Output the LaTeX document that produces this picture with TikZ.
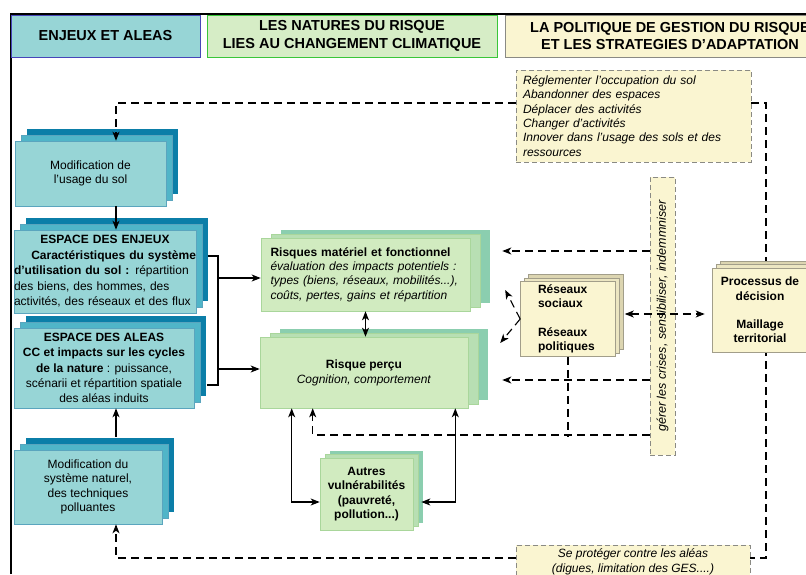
\documentclass[tikz,border=0pt]{standalone}
\usepackage{fontspec}
\setmainfont{Liberation Sans}
\usetikzlibrary{arrows.meta,shadows}

\definecolor{tealfront}{HTML}{97D5D6}
\definecolor{tealmid}{HTML}{50B5C8}
\definecolor{tealdark}{HTML}{0B7EA8}
\definecolor{tealline}{HTML}{5AA5BE}
\definecolor{greenfront}{HTML}{D1EBC0}
\definecolor{greenmid}{HTML}{B8DFB3}
\definecolor{greendark}{HTML}{8BCEAF}
\definecolor{greenline}{HTML}{A9D69B}
\definecolor{yellowfront}{HTML}{FAF5D1}
\definecolor{yellowmid}{HTML}{ECE6C2}
\definecolor{yellowdark}{HTML}{DCD5B1}
\definecolor{yellowline}{HTML}{A29E8A}
\definecolor{notegray}{HTML}{8A8A84}

\tikzset{
  head/.style={minimum height=42pt, align=center, line width=0.8pt,
    font=\fontsize{14.5}{17.5}\selectfont\bfseries},
  tealbox/.style={draw=tealline, fill=tealfront, line width=0.6pt, align=center, inner xsep=2pt,
    font=\fontsize{12}{14.4}\selectfont,
    general shadow={fill=tealdark, shadow xshift=12pt, shadow yshift=12pt},
    general shadow={fill=tealmid, draw=tealline, shadow xshift=6pt, shadow yshift=6pt}},
  greenbox/.style={draw=greenline, fill=greenfront, line width=0.6pt, align=center,
    font=\fontsize{12}{14.4}\selectfont,
    general shadow={fill=greendark, shadow xshift=20pt, shadow yshift=8pt},
    general shadow={fill=greenmid, draw=greenline, shadow xshift=10pt, shadow yshift=4pt}},
  greensmall/.style={draw=greenline, fill=greenfront, line width=0.6pt, align=center,
    font=\fontsize{12}{14.4}\selectfont\bfseries,
    general shadow={fill=greendark, shadow xshift=10pt, shadow yshift=7pt},
    general shadow={fill=greenmid, draw=greenline, shadow xshift=5pt, shadow yshift=3.5pt}},
  yellowbox/.style={draw=yellowline, fill=yellowfront, line width=0.6pt,
    font=\fontsize{12}{14.4}\selectfont\bfseries,
    general shadow={fill=yellowdark, draw=yellowline, shadow xshift=8pt, shadow yshift=7pt},
    general shadow={fill=yellowmid, draw=yellowline, shadow xshift=4pt, shadow yshift=3.5pt}},
  notebox/.style={draw=notegray, fill=yellowfront, line width=0.8pt, dash pattern=on 5pt off 3pt,
    font=\fontsize{12}{14.4}\selectfont\itshape},
  ln/.style={line width=1.2pt},
  dl/.style={line width=1.1pt, dash pattern=on 8pt off 5pt},
}

\begin{document}
\begin{tikzpicture}[x=1pt, y=-1pt, >={Stealth[length=9pt,width=7pt,inset=2.5pt]}]
\useasboundingbox (0,0) rectangle (806,574);
\clip (0,0) rectangle (806,574);

% frame
\draw[line width=2pt] (10.5,574) -- (10.5,14) -- (806,14);

% column headers
\node[head, draw=blue!45!gray, fill=tealfront, minimum width=189pt] (hEnjeux) at (105.5,36) {ENJEUX ET ALEAS};
\node[head, draw=green!55!gray, fill=greenfront!90!white, minimum width=290pt] (hNatures) at (352,36)
  {LES NATURES DU RISQUE\\LIES AU CHANGEMENT CLIMATIQUE};
\node[head, draw=notegray, fill=yellowfront, minimum width=330pt] (hPolitique) at (670,36)
  {LA POLITIQUE DE GESTION DU RISQUE\\ET LES STRATEGIES D'ADAPTATION};

\coordinate (colL) at (116,0);
\coordinate (colR) at (766,0);
\coordinate (bus) at (218,0);

% left column
\node[tealbox, minimum width=151pt, minimum height=65pt] (usage) at (90.5,173.5)
  {Modification de\\l'usage du sol};
\node[tealbox, text width=182pt, inner xsep=0pt, minimum height=83pt, align=left,
  font=\fontsize{12}{15.5}\selectfont] (enjeux) at (105,271.5)
  {\hspace*{\fill}\textbf{ESPACE DES ENJEUX}\hspace*{\fill}\mbox{}\\
   \hspace*{\fill}\textbf{Caractéristiques du système}\mbox{}\\
   \textbf{d'utilisation du sol :} répartition\\
   des biens, des hommes, des\\
   activités, des réseaux et des flux};
\node[tealbox, minimum width=180pt, minimum height=80pt, font=\fontsize{12}{15.3}\selectfont] (aleas) at (104,368)
  {\textbf{ESPACE DES ALEAS}\\\textbf{CC et impacts sur les cycles}\\\textbf{de la nature} : puissance,\\
   scénarii et répartition spatiale\\des aléas induits};
\node[tealbox, minimum width=148pt, minimum height=74pt] (naturel) at (88,487)
  {Modification du\\système naturel,\\des techniques\\polluantes};

% middle column
\node[greenbox, text width=190pt, inner xsep=9.5pt, minimum height=73pt, align=left] (risques) at (365.5,274.5)
  {\textbf{Risques matériel et fonctionnel}\\
   \textit{évaluation des impacts potentiels :}\\
   \textit{types (biens, réseaux, mobilités...),}\\
   \textit{coûts, pertes, gains et répartition}};
\node[greenbox, minimum width=208pt, minimum height=71pt, font=\fontsize{12}{15}\selectfont] (percu) at (364,372.5)
  {\textbf{Risque perçu}\\\textit{Cognition, comportement}};
\node[greensmall, minimum width=93pt, minimum height=72pt] (autres) at (366.5,494)
  {Autres\\vulnérabilités\\(pauvreté,\\pollution...)};

% right column
\node[notebox, text width=221pt, inner xsep=7pt, minimum height=92pt, align=left] (regl) at (633.5,116)
  {Réglementer l'occupation du sol\\Abandonner des espaces\\Déplacer des activités\\Changer d'activités\\
   Innover dans l'usage des sols et des\\ressources};
\node[notebox, minimum width=234pt, minimum height=34pt, align=center] (proteger) at (633,562)
  {Se protéger contre les aléas\\(digues, limitation des GES....)};
\node[notebox, minimum width=25pt, minimum height=278pt, inner sep=0pt] (gerer) at (662.5,316)
  {\rotatebox{90}{\fontsize{12.5}{14}\selectfont gérer les crises, sensibiliser, indemmniser}};
\node[yellowbox, text width=60pt, minimum width=95pt, minimum height=72pt, align=left] (reseaux) at (568,319)
  {Réseaux\\sociaux\\[14pt]Réseaux\\politiques};

% long dashed loop
\draw[dl] ([yshift=13pt]regl.east) -| ([yshift=4pt]proteger.east -| colR) -- ([yshift=4pt]proteger.east);
\draw[dl,->] ([yshift=13pt]regl.west) -| (usage.north -| colL);
\draw[dl,->] ([yshift=4pt]proteger.west) -| (naturel.south -| colL);

\node[yellowbox, minimum width=96pt, minimum height=84pt, align=center] (processus) at (760,310)
  {Processus de\\décision\\[14pt]Maillage\\territorial};

% solid links
\draw[ln,->] (usage.south -| colL) -- (enjeux.north -| colL);
\draw[ln,->] ([yshift=13pt]naturel.north -| colL) -- (aleas.south -| colL);
\draw[ln] ([xshift=12pt,yshift=15.5pt]enjeux.east) -| ([yshift=-17pt]aleas.east -| bus)
  -- ([xshift=13pt,yshift=-17pt]aleas.east);
\draw[ln,->] ([yshift=-3.5pt]risques.west -| bus) -- ([yshift=-3.5pt]risques.west);
\draw[ln,->] ([yshift=3.5pt]percu.west -| bus) -- ([yshift=3.5pt]percu.west);
\draw[ln,<->] (risques.south) -- (risques.south |- percu.north);
\draw[ln,<->] ([xshift=32pt]percu.south west) |- ([yshift=-8pt]autres.west);
\draw[ln,<->] ([xshift=-13pt]percu.south east) |- ([xshift=8pt,yshift=-8pt]autres.east);

% dashed links
\draw[dl,->,shorten >=32pt] ([yshift=65pt]gerer.west) -- ([yshift=65pt]gerer.west -| risques.east);
\draw[dl,->,shorten >=34pt] ([yshift=-64pt]gerer.west) -- ([yshift=-64pt]gerer.west -| percu.east);
\draw[dl,->] ([yshift=-119pt]gerer.west) -| ([xshift=53pt]percu.south west);
\draw[dl] (reseaux.south) -- ++(0,80);
\draw[dl,->] (reseaux.west) -- ++(-15,-29);
\draw[dl,->] (reseaux.west) -- ++(-20,24);
\draw[dl,<->,shorten >=7pt] ([xshift=9pt,yshift=5pt]reseaux.east) -- ([yshift=5pt]reseaux.east -| processus.west);
\end{tikzpicture}
\end{document}
